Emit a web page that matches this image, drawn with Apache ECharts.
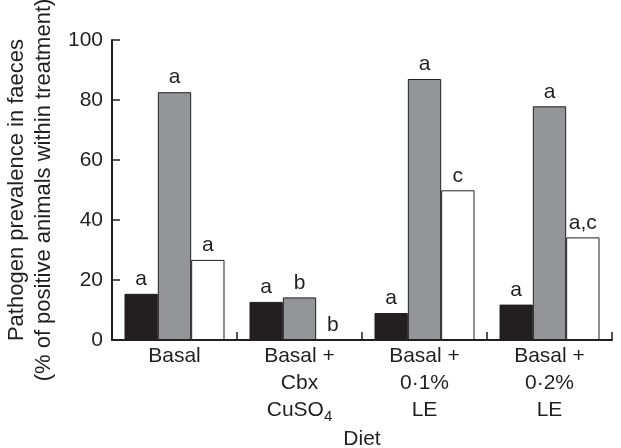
<!DOCTYPE html>
<html>
<head>
<meta charset="utf-8">
<script src="https://cdn.jsdelivr.net/npm/echarts@6/dist/echarts.min.js"></script>
<style>html,body{margin:0;padding:0;background:#fff;}#c{width:621px;height:448px;}</style>
</head>
<body>
<div id="c"></div>
<script>
var categories = ['Basal', 'Basal +\nCbx\nCuSO{sub|4}', 'Basal +\n0·1%\nLE', 'Basal +\n0·2%\nLE'];
var seriesBlack = [15.4, 12.7, 9.0, 11.8];
var seriesGrey = [82.6, 14.2, 87.0, 77.9];
var seriesWhite = [26.7, 0, 49.9, 34.2];
var lettersBlack = ['a', 'a', 'a', 'a'];
var lettersGrey = ['a', 'b', 'a', 'a'];
var lettersWhite = ['a', 'b', 'c', 'a,c'];
var yTicks = [0, 20, 40, 60, 80, 100];

var FONT = 'Liberation Sans, Arial, sans-serif';
var INK = '#231f20';
var FS = 21;

function mkSeries(vals, letters, color) {
  return {
    type: 'bar',
    barGap: '0%',
    barCategoryGap: '20%',
    data: vals.map(function (v, i) {
      return { value: v, label: { formatter: letters[i] } };
    }),
    itemStyle: { color: color, borderColor: INK, borderWidth: 1 },
    label: { show: true, position: 'top', distance: 4, fontSize: FS, color: INK, fontFamily: FONT },
    silent: true
  };
}

var chart = echarts.init(document.getElementById('c'), null, { renderer: 'canvas' });
chart.setOption({
  animation: false,
  backgroundColor: '#fff',
  grid: { left: 112, right: 9, top: 40, bottom: 108, containLabel: false, outerBoundsMode: 'none' },
  xAxis: {
    type: 'category',
    data: categories,
    name: 'Diet',
    nameLocation: 'middle',
    nameGap: 74,
    nameTextStyle: { fontSize: FS, color: INK, fontFamily: FONT },
    axisLine: { lineStyle: { color: INK, width: 2 } },
    axisTick: { show: true, inside: true, length: 8, lineStyle: { color: INK, width: 1.5 } },
    axisLabel: {
      margin: 3,
      fontSize: FS,
      lineHeight: 27,
      color: INK,
      fontFamily: FONT,
      interval: 0,
      rich: {
        sub: { fontSize: 15, color: INK, fontFamily: FONT, lineHeight: 27, padding: [12, 0, 0, 0] }
      }
    }
  },
  yAxis: {
    type: 'value',
    min: yTicks[0],
    max: yTicks[yTicks.length - 1],
    interval: 20,
    name: 'Pathogen prevalence in faeces\n(% of positive animals within treatment)',
    nameLocation: 'middle',
    nameGap: 42,
    nameTextStyle: { fontSize: 22, lineHeight: 27, color: INK, fontFamily: FONT },
    axisLine: { show: true, lineStyle: { color: INK, width: 2 } },
    axisTick: { show: true, inside: true, length: 8, lineStyle: { color: INK, width: 1.5 } },
    splitLine: { show: false },
    axisLabel: { margin: 9, fontSize: FS, color: INK, fontFamily: FONT }
  },
  series: [
    mkSeries(seriesBlack, lettersBlack, INK),
    mkSeries(seriesGrey, lettersGrey, '#939598'),
    mkSeries(seriesWhite, lettersWhite, '#ffffff')
  ]
});
</script>
</body>
</html>
